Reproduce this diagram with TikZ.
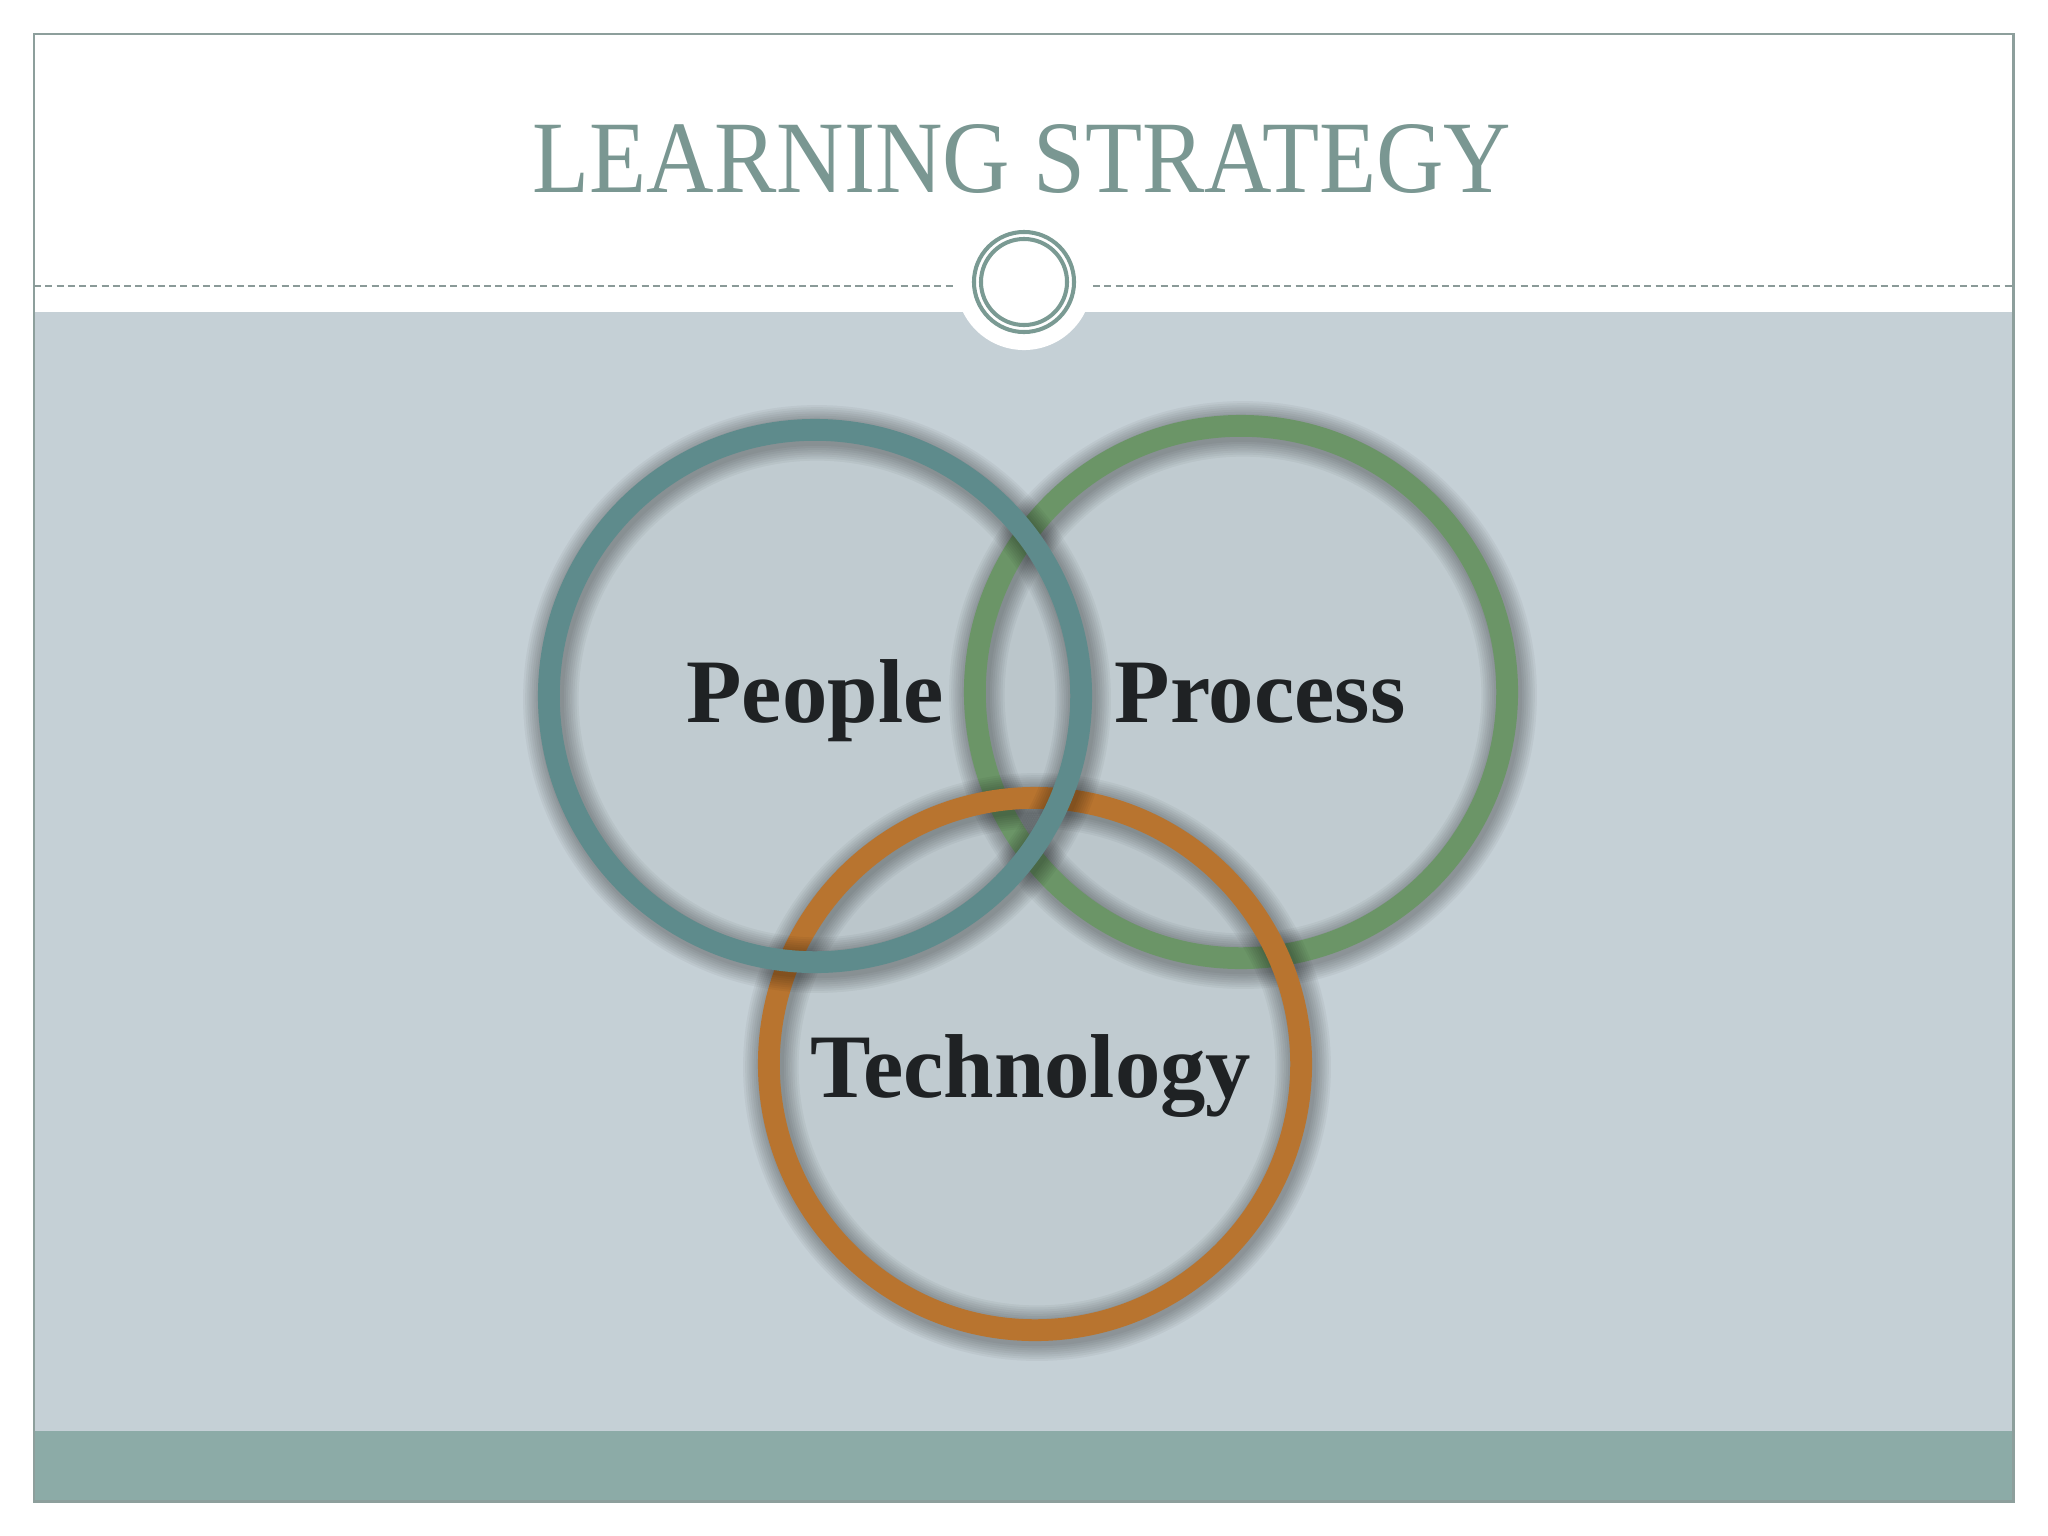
\documentclass[tikz,border=0pt]{standalone}
\usepackage{fontspec}
\setmainfont{Liberation Serif}
\usetikzlibrary{calc}
\definecolor{bgpanel}{HTML}{C5D0D6}
\definecolor{footbar}{HTML}{8CABA7}
\definecolor{framec}{HTML}{8D9F9C}
\definecolor{titlec}{HTML}{7A9792}
\definecolor{ornc}{HTML}{7A9A93}
\definecolor{dashc}{HTML}{8A9A98}
\definecolor{tealc}{HTML}{5E8B8C}
\definecolor{greenc}{HTML}{6B9567}
\definecolor{orangec}{HTML}{B8742F}
\definecolor{labelc}{HTML}{1F2224}
\tikzset{
  ringfill/.style={fill=black, fill opacity=0.025},
  ring/.style={line width=6.2pt},
  halo/.style={draw=black, draw opacity=0.04},
  label/.style={font=\fontsize{25.8pt}{30pt}\selectfont\bfseries, text=labelc, anchor=base, inner sep=0pt},
  ornring/.style={draw=ornc, line width=1.15pt}
}
\newcommand{\ringshadow}[1]{%
  \foreach \k in {1,...,8}{%
    \draw[halo, line width=6.2pt+\k*1.2pt] ($(#1)+(2,3)$) circle[radius=2.66cm];
  }%
}
\begin{document}
\begin{tikzpicture}[x=0.01cm,y=-0.01cm]
\useasboundingbox (0,0) rectangle (2048,1536);
\fill[white] (0,0) rectangle (2048,1536);
% panels
\fill[bgpanel] (34,312) rectangle (2013,1431);
\fill[footbar] (34,1431) rectangle (2013,1501);
\draw[framec, line width=0.85pt] (34,34) rectangle (2013,1501);
% dashed rule
\coordinate (dl1) at (34,286);
\coordinate (dl2) at (956,286);
\coordinate (dr1) at (1093,286);
\coordinate (dr2) at (2013,286);
\draw[dashc, line width=0.45pt, dash pattern=on 2pt off 1.2pt] (dl1) -- (dl2);
\draw[dashc, line width=0.45pt, dash pattern=on 2pt off 1.2pt] (dr1) -- (dr2);
% ornament
\coordinate (orn) at (1024,282);
\fill[white] (orn) circle[radius=0.68cm];
\draw[ornring] (orn) circle[radius=0.50cm];
\draw[ornring] (orn) circle[radius=0.43cm];
% title
\node[anchor=base, inner sep=0pt, text=titlec, font=\fontsize{29.2pt}{35pt}\selectfont] (title) at (1022,192) {\scalebox{0.91}[1]{LEARNING STRATEGY}};
% ring centres
\coordinate (cp) at (815,696);
\coordinate (cg) at (1241,692);
\coordinate (co) at (1035,1064);
% subtle fills
\fill[ringfill] (cp) circle[radius=2.66cm];
\fill[ringfill] (cg) circle[radius=2.66cm];
\fill[ringfill] (co) circle[radius=2.66cm];
% green ring (bottom)
\ringshadow{cg}
\draw[ring, greenc] (cg) circle[radius=2.66cm];
% orange ring
\ringshadow{co}
\draw[ring, orangec] (co) circle[radius=2.66cm];
% teal ring (top)
\ringshadow{cp}
\draw[ring, tealc] (cp) circle[radius=2.66cm];
% ring nodes (names)
\node[circle, minimum size=5.32cm, inner sep=0pt] (people) at (cp) {};
\node[circle, minimum size=5.32cm, inner sep=0pt] (process) at (cg) {};
\node[circle, minimum size=5.32cm, inner sep=0pt] (technology) at (co) {};
% labels
\node[label] (lpeople) at (815,722) {People};
\node[label] (lprocess) at (1260,722) {Process};
\node[label] (ltech) at (1031,1097) {Technology};
\end{tikzpicture}
\end{document}
